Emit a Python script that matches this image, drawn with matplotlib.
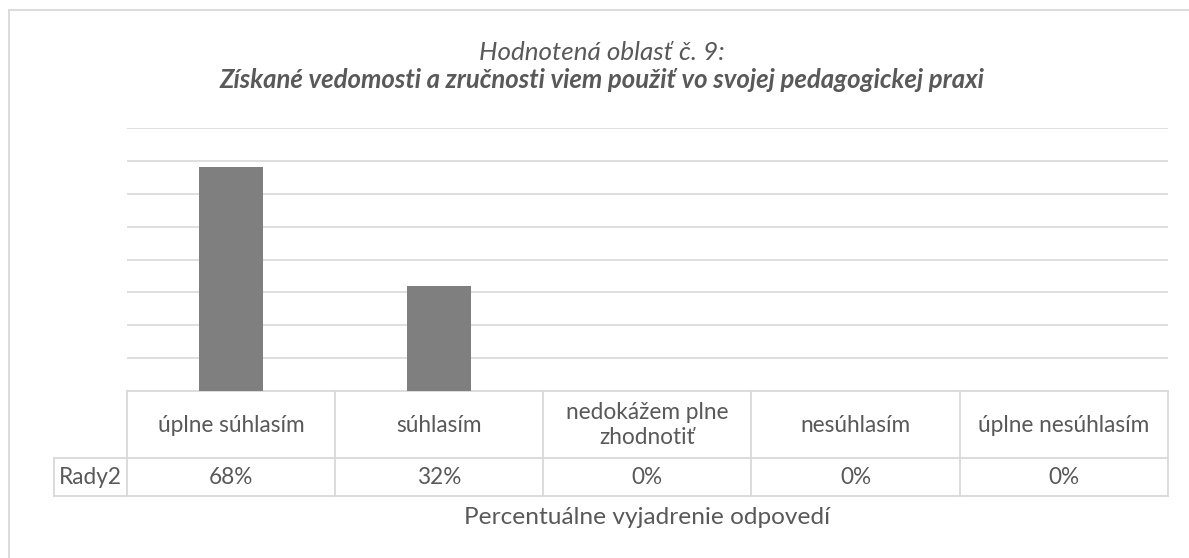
import matplotlib
matplotlib.use('Agg')
import matplotlib.pyplot as plt
import matplotlib.transforms as mtransforms
from matplotlib.lines import Line2D

# data
categories = ['úplne súhlasím', 'súhlasím', 'nedokážem plne\nzhodnotiť', 'nesúhlasím', 'úplne nesúhlasím']
values = [68, 32, 0, 0, 0]
value_labels = ['68%', '32%', '0%', '0%', '0%']
series_name = 'Rady2'
title_line1 = 'Hodnotená oblasť č. 9:'
title_line2 = 'Získané vedomosti a zručnosti viem použiť vo svojej pedagogickej praxi'
xlabel = 'Percentuálne vyjadrenie odpovedí'

W, H = 1189, 558
TXT = '#595959'
GRID = '#d9d9d9'
plt.rcParams['font.family'] = ['Lato', 'DejaVu Sans']

fig = plt.figure(figsize=(W / 100, H / 100), dpi=100)
fig.patch.set_facecolor('white')


def px(x0, y0, x1, y1):
    # pixel box (top-left origin) -> figure fraction rect
    return [x0 / W, 1 - y1 / H, (x1 - x0) / W, (y1 - y0) / H]


ax = fig.add_axes(px(126.7, 128, 1168, 391))
x = list(range(len(categories)))
ax.bar(x, values, width=0.31, color='#7f7f7f', zorder=3)
ax.set_xlim(-0.5, len(categories) - 0.5)
ax.set_ylim(0, 80)
ax.set_yticks(range(10, 81, 10))
ax.yaxis.grid(True, color=GRID, lw=1.2)
ax.set_axisbelow(True)
ax.tick_params(left=False, bottom=False, labelleft=False, labelbottom=False)
for s in ax.spines.values():
    s.set_visible(False)

# chart frame (runs past the image on right and bottom)
fig.add_artist(Line2D([9 / W, 1.01], [1 - 10 / H] * 2, color=GRID, lw=1.3, transform=fig.transFigure))
fig.add_artist(Line2D([9 / W] * 2, [1 - 10 / H, -0.01], color=GRID, lw=1.3, transform=fig.transFigure))

# data table under the axis
tr = mtransforms.blended_transform_factory(ax.transData, ax.transAxes)
y_top, y_mid, y_bot = 0, (391 - 458) / 263, (391 - 496) / 263
x_lab = -0.5 + (54 - 126.7) / 208.26
x_end = len(categories) - 0.5
kw = dict(color=GRID, lw=1.3, transform=tr, clip_on=False)
ax.add_line(Line2D([-0.5, x_end], [y_top, y_top], **kw))
ax.add_line(Line2D([x_lab, x_end], [y_mid, y_mid], **kw))
ax.add_line(Line2D([x_lab, x_end], [y_bot, y_bot], **kw))
ax.add_line(Line2D([x_lab, x_lab], [y_mid, y_bot], **kw))
for i in range(len(categories) + 1):
    ax.add_line(Line2D([i - 0.5, i - 0.5], [y_top, y_bot], **kw))

cat_texts = []
for i, c in enumerate(categories):
    cat_texts.append(ax.text(i, (391 - 425) / 263, c, transform=tr, ha='center', va='center',
                             color=TXT, fontsize=12, linespacing=1.2))
    ax.text(i, (391 - 477) / 263, value_labels[i], transform=tr, ha='center', va='center',
            color=TXT, fontsize=12)
ax.text((x_lab - 0.5) / 2, (391 - 477) / 263, series_name, transform=tr, ha='center',
        va='center', color=TXT, fontsize=12)
xl = ax.text(0.5, (391 - 517) / 263, xlabel, transform=ax.transAxes, ha='center',
             va='center', color=TXT, fontsize=14)

t1 = fig.text(602 / W, 1 - 52 / H, title_line1, ha='center', va='center', color=TXT,
              fontsize=14, style='italic')
t2 = fig.text(602 / W, 1 - 80 / H, title_line2, ha='center', va='center', color=TXT,
              fontsize=14, style='italic', weight='bold')

# scale font sizes so text widths match the reference
r = fig.canvas.get_renderer()


def fit(t, target):
    w = t.get_window_extent(r).width
    return t.get_fontsize() * target / w


cat_size = fit(cat_texts[0], 146)
for t in ax.texts:
    if t is not xl:
        t.set_fontsize(cat_size)
xl.set_fontsize(fit(xl, 367))
t1.set_fontsize(fit(t1, 247))
t2.set_fontsize(fit(t2, 770))

fig.savefig('out.png', dpi=100, facecolor='white')
